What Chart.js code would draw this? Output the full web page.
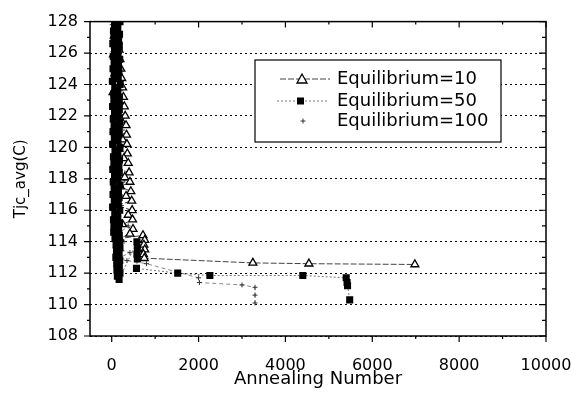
<!DOCTYPE html>
<html>
<head>
<meta charset="utf-8">
<script src="https://cdn.jsdelivr.net/npm/chart.js@4.4.1/dist/chart.umd.min.js"></script>
<style>
  html, body { margin: 0; padding: 0; background: #fff; }
  canvas { display: block; }
</style>
</head>
<body>
<canvas id="c" width="584" height="398"></canvas>
<script>
// series: [annealing number, Tjc_avg]
const eq10 = [
  [120,127.4],[60,127.1],[150,126.8],[90,126.5],[170,126.2],[40,125.9],[190,125.6],[110,125.3],
  [210,125.0],[70,124.7],[230,124.4],[140,124.1],[250,123.8],[30,123.5],[270,123.2],[180,122.9],
  [290,122.6],[100,122.3],[310,122.0],[220,121.7],[330,121.4],[60,121.1],[340,120.8],[250,120.5],
  [350,120.2],[150,119.9],[360,119.6],[280,119.3],[380,119.0],[90,118.7],[400,118.4],[300,118.1],
  [420,117.8],[200,117.5],[440,117.2],[330,116.9],[460,116.6],[120,116.3],[470,116.0],[380,115.7],
  [480,115.4],[250,115.1],[490,114.8],[420,114.5],[180,114.2],
  [720,114.4],[760,114.1],[740,113.8],[760,113.5],[730,113.2],[750,112.95],
  [3250,112.65],[4540,112.6],[6980,112.55]
];
const eq50 = [
  [30,129.0],[170,128.8],[60,128.6],[150,128.4],[20,128.2],[190,128.0],[70,127.8],[140,127.6],
  [40,127.4],[180,127.2],[50,127.0],[160,126.8],[25,126.6],[175,126.4],[65,126.2],[145,126.0],
  [35,125.8],[185,125.6],[55,125.4],[155,125.2],[30,125.0],[165,124.8],[60,124.6],[150,124.4],
  [15,124.2],[195,124.0],[70,123.8],[140,123.6],[45,123.4],[180,123.2],[50,123.0],[160,122.8],
  [20,122.6],[175,122.4],[65,122.2],[150,122.0],[35,121.8],[185,121.6],[55,121.4],[155,121.2],
  [30,121.0],[170,120.8],[60,120.6],[145,120.4],[20,120.2],[190,120.0],[75,119.8],[140,119.6],
  [40,119.4],[180,119.2],[50,119.0],[165,118.8],[25,118.6],[175,118.4],[65,118.2],[145,118.0],
  [35,117.8],[190,117.6],[55,117.4],[155,117.2],[30,117.0],[170,116.8],[60,116.6],[150,116.4],
  [20,116.2],[185,116.0],[70,115.8],[140,115.6],[40,115.4],[180,115.2],[50,115.0],[160,114.8],
  [45,114.6],[175,114.4],[75,114.2],[180,114.0],[100,113.8],[190,113.6],[110,113.4],[170,113.2],
  [95,113.0],[185,112.8],[115,112.6],[175,112.4],[120,112.2],[190,112.0],[130,111.8],[170,111.6],
  [580,114.0],[590,113.6],[580,113.2],[590,112.9],[570,112.3],[1520,112.0],[2260,111.85],
  [4400,111.85],[5400,111.7],[5420,111.4],[5430,111.2],[5480,110.3]
];
const eq100 = [
  [10,127.8],[90,127.0],[30,126.1],[150,125.3],[60,124.5],[200,123.6],[20,122.8],[120,122.0],
  [250,121.1],[70,120.3],[180,119.5],[0,118.7],[300,117.9],[100,117.1],[220,116.3],[40,115.6],
  [380,115.0],[150,114.5],[280,114.0],[80,113.6],[420,113.3],[200,113.0],[350,112.8],[800,112.6],
  [2000,111.7],[2020,111.4],[3000,111.25],[3300,111.1],[3300,110.6],[3300,110.1]
];
const seriesNames = ['Equilibrium=10', 'Equilibrium=50', 'Equilibrium=100'];
const xTicks = [0, 2000, 4000, 6000, 8000, 10000];
const yTicks = [108, 110, 112, 114, 116, 118, 120, 122, 124, 126, 128];

const FONT = 'DejaVu Sans';
const toXY = arr => arr.map(p => ({x: p[0], y: p[1]}));

// frame, ticks and the legend box
const frame = {
  id: 'frame',
  afterDraw(chart) {
    const {ctx, chartArea: a, scales: {x, y}} = chart;
    ctx.save();
    ctx.strokeStyle = '#000';
    ctx.lineWidth = 1.5;
    ctx.strokeRect(a.left, a.top, a.right - a.left, a.bottom - a.top);
    ctx.lineWidth = 1.2;
    ctx.beginPath();
    for (let v = 108; v <= 128; v++) {
      const py = y.getPixelForValue(v);
      const major = v % 2 === 0;
      ctx.moveTo(a.left - (major ? 6 : 3), py); ctx.lineTo(a.left, py);
      ctx.moveTo(a.right - (major ? 7 : 4), py); ctx.lineTo(a.right, py);
    }
    for (let v = 0; v <= 10000; v += 1000) {
      const px = x.getPixelForValue(v);
      const major = v % 2000 === 0;
      ctx.moveTo(px, a.bottom); ctx.lineTo(px, a.bottom + (major ? 6 : 3));
      ctx.moveTo(px, a.top); ctx.lineTo(px, a.top + (major ? 6 : 3));
    }
    ctx.stroke();

    // legend
    const bx = 255, by = 60, bw = 246, bh = 82;
    ctx.fillStyle = '#fff';
    ctx.fillRect(bx, by, bw, bh);
    ctx.lineWidth = 1.2;
    ctx.strokeRect(bx, by, bw, bh);
    const rows = [79, 101, 121];
    ctx.font = '18px "' + FONT + '"';
    ctx.textBaseline = 'middle';
    ctx.fillStyle = '#000';
    rows.forEach((ry, i) => ctx.fillText(seriesNames[i], 337, ry));

    ctx.lineWidth = 1;
    ctx.strokeStyle = '#444';
    ctx.setLineDash([6, 2]);
    ctx.beginPath(); ctx.moveTo(280, rows[0]); ctx.lineTo(330, rows[0]); ctx.stroke();
    ctx.strokeStyle = '#777';
    ctx.setLineDash([2, 2]);
    ctx.beginPath(); ctx.moveTo(277, rows[1]); ctx.lineTo(328, rows[1]); ctx.stroke();
    ctx.setLineDash([]);

    // triangle
    ctx.fillStyle = '#fff';
    ctx.strokeStyle = '#000';
    ctx.lineWidth = 1.3;
    ctx.beginPath();
    ctx.moveTo(302, rows[0] - 5); ctx.lineTo(307, rows[0] + 4); ctx.lineTo(297, rows[0] + 4);
    ctx.closePath(); ctx.fill(); ctx.stroke();
    // square
    ctx.fillStyle = '#000';
    ctx.fillRect(297, rows[1] - 3.5, 7, 7);
    // plus
    ctx.lineWidth = 1;
    ctx.strokeStyle = '#333';
    ctx.beginPath();
    ctx.moveTo(300.5, rows[2]); ctx.lineTo(305.5, rows[2]);
    ctx.moveTo(303, rows[2] - 2.5); ctx.lineTo(303, rows[2] + 2.5);
    ctx.stroke();
    ctx.restore();
  }
};

new Chart(document.getElementById('c'), {
  type: 'scatter',
  data: {
    datasets: [
      {
        label: seriesNames[0], data: toXY(eq10), showLine: true, order: 1,
        borderColor: '#444', borderWidth: 1, borderDash: [6, 2],
        pointStyle: 'triangle', pointRadius: 4.6, pointBorderWidth: 1.3,
        pointBackgroundColor: '#fff', pointBorderColor: '#000'
      },
      {
        label: seriesNames[1], data: toXY(eq50), showLine: true, order: 0,
        borderColor: '#777', borderWidth: 1, borderDash: [2, 2],
        pointStyle: 'rect', pointRadius: 5, pointBorderWidth: 0,
        pointBackgroundColor: '#000', pointBorderColor: '#000'
      },
      {
        label: seriesNames[2], data: toXY(eq100), showLine: true, order: 2,
        borderColor: '#888', borderWidth: 1, borderDash: [4, 3],
        pointStyle: 'cross', pointRadius: 2.5, pointBorderWidth: 1,
        pointBorderColor: '#333'
      }
    ]
  },
  options: {
    responsive: false,
    animation: false,
    devicePixelRatio: 1,
    layout: { padding: { top: 19, right: 38, left: 0, bottom: 0 } },
    plugins: { legend: { display: false }, tooltip: { enabled: false } },
    scales: {
      x: {
        type: 'linear', min: -500, max: 10000,
        afterBuildTicks: s => { s.ticks = xTicks.map(v => ({ value: v })); },
        afterFit: s => { s.height = 62; },
        grid: { display: false },
        border: { display: false },
        ticks: {
          color: '#000', font: { family: FONT, size: 16 }, padding: 12, maxRotation: 0,
          callback: v => String(v)
        },
        title: {
          display: true, text: 'Annealing Number', color: '#000',
          font: { family: FONT, size: 18 }, padding: { top: 0, bottom: 8 }
        }
      },
      y: {
        min: 108, max: 128,
        afterBuildTicks: s => { s.ticks = yTicks.map(v => ({ value: v })); },
        afterFit: s => { s.width = 90; },
        grid: { color: '#000', lineWidth: 1, drawTicks: false },
        border: { display: false, dash: [2, 3] },
        ticks: { color: '#000', font: { family: FONT, size: 16 }, padding: 12 },
        title: {
          display: true, text: 'Tjc_avg(C)', color: '#000',
          font: { family: FONT, size: 15 }, padding: { top: 12, bottom: 0 }
        }
      }
    }
  },
  plugins: [frame]
});
</script>
</body>
</html>
